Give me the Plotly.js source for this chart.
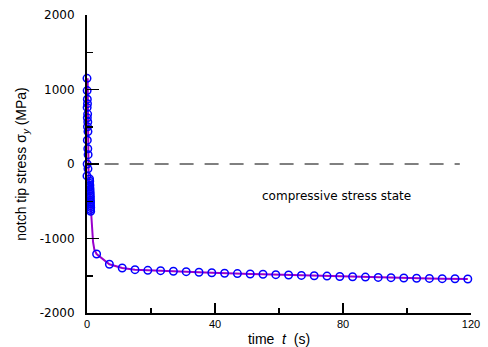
<!DOCTYPE html>
<html>
<head>
<meta charset="utf-8">
<script src="https://cdn.plot.ly/plotly-3.0.1.min.js"></script>
<style>
html,body{margin:0;padding:0;background:#fff;}
#chart{width:488px;height:347px;}
</style>
</head>
<body>
<div id="chart"></div>
<script>
// Markers: early oscillation near t = 0
const earlyT = [0.00, 0.05, 0.10, 0.15, 0.05, 0.20, 0.10, 0.25, 0.15, 0.30, 0.10, 0.25, 0.35, 0.05, 0.30, 0.00,
                0.80, 0.85, 0.80, 0.90, 0.85, 0.95, 0.90, 1.00, 0.95, 1.05, 1.00, 1.05, 1.10, 1.05, 1.10, 1.15, 1.10, 1.15];
const earlyStress = [1150, 985, 870, 810, 760, 670, 620, 565, 500, 435, 320, 205, 125, 0, -65, -160,
                -200, -230, -260, -285, -310, -335, -360, -385, -410, -435, -460, -485, -510, -535, -560, -585, -610, -635];

// Markers: relaxation phase
const lateT = [3, 7, 11, 15, 19, 23, 27, 31, 35, 39, 43, 47, 51, 55, 59,
               63, 67, 71, 75, 79, 83, 87, 91, 95, 99, 103, 107, 111, 115, 119];
const lateStress = [-1208, -1346, -1396, -1418, -1427, -1432, -1440, -1445, -1453, -1459, -1467, -1471, -1476, -1480, -1485,
                    -1490, -1495, -1500, -1505, -1510, -1514, -1518, -1522, -1526, -1530, -1533, -1536, -1539, -1541, -1543];

// Continuous curve (purple)
const curveT = [0.2, 0.3, 0.5, 0.9, 1.2, 1.5, 1.9, 2.3].concat(lateT);
const curveStress = [1150, 500, -150, -400, -640, -900, -1050, -1150].concat(lateStress);

// Reference zero line extent
const zeroLineT = [5.5, 116.5];
const zeroLineStress = [0, 0];

const xTicks = [0, 40, 80, 120];
const yTicks = [-2000, -1000, 0, 1000, 2000];

const markerT = earlyT.concat(lateT);
const markerStress = earlyStress.concat(lateStress);

const ARIAL = "'Liberation Sans', Arial, sans-serif";
const WIDE = "'DejaVu Sans', sans-serif";

const traces = [
  {
    x: zeroLineT, y: zeroLineStress, mode: 'lines', type: 'scatter',
    line: {color: 'black', width: 1, dash: '14px,11px'}, hoverinfo: 'skip'
  },
  {
    x: curveT, y: curveStress, mode: 'lines', type: 'scatter',
    line: {color: '#9900cc', width: 2}, cliponaxis: false
  },
  {
    x: markerT, y: markerStress, mode: 'markers', type: 'scatter',
    marker: {symbol: 'circle-open', size: 7.5, color: '#0000ff', line: {width: 1.5, color: '#0000ff'}},
    cliponaxis: false
  }
];

const layout = {
  width: 488, height: 347,
  margin: {l: 87, r: 17, t: 15, b: 34},
  paper_bgcolor: 'white', plot_bgcolor: 'white',
  showlegend: false,
  font: {family: ARIAL, color: 'black'},
  xaxis: {
    range: [0, 120], tickvals: xTicks, ticktext: xTicks.map(String),
    ticks: 'inside', ticklen: 10, tickwidth: 1.5, tickcolor: 'black',
    minor: {dtick: 20, tick0: 0, ticks: 'inside', ticklen: 5, tickwidth: 1.5, tickcolor: 'black'},
    showline: true, linecolor: 'black', linewidth: 2,
    showgrid: false, zeroline: false,
    tickfont: {family: ARIAL, size: 11, color: 'black'},
    title: {text: 'time&nbsp; <i>t</i>&nbsp; (s)', font: {family: ARIAL, size: 14, color: 'black'}, standoff: 6}
  },
  yaxis: {
    range: [-2000, 2000], tickvals: yTicks, ticktext: yTicks.map(String),
    ticks: 'inside', ticklen: 12, tickwidth: 1.5, tickcolor: 'black',
    minor: {dtick: 500, tick0: 0, ticks: 'inside', ticklen: 6, tickwidth: 1.5, tickcolor: 'black'},
    showline: true, linecolor: 'black', linewidth: 2,
    showgrid: false, zeroline: false,
    ticklabelstandoff: 8,
    tickfont: {family: WIDE, size: 12, color: 'black'},
    title: {text: 'notch tip stress σ<sub><i>y</i></sub> (MPa)', font: {family: ARIAL, size: 14, color: 'black'}, standoff: 10}
  },
  annotations: [{
    x: 78, y: -430, xref: 'x', yref: 'y', text: 'compressive stress state',
    showarrow: false, font: {family: WIDE, size: 12, color: 'black'}
  }]
};

Plotly.newPlot('chart', traces, layout, {displayModeBar: false, staticPlot: true});
</script>
</body>
</html>
